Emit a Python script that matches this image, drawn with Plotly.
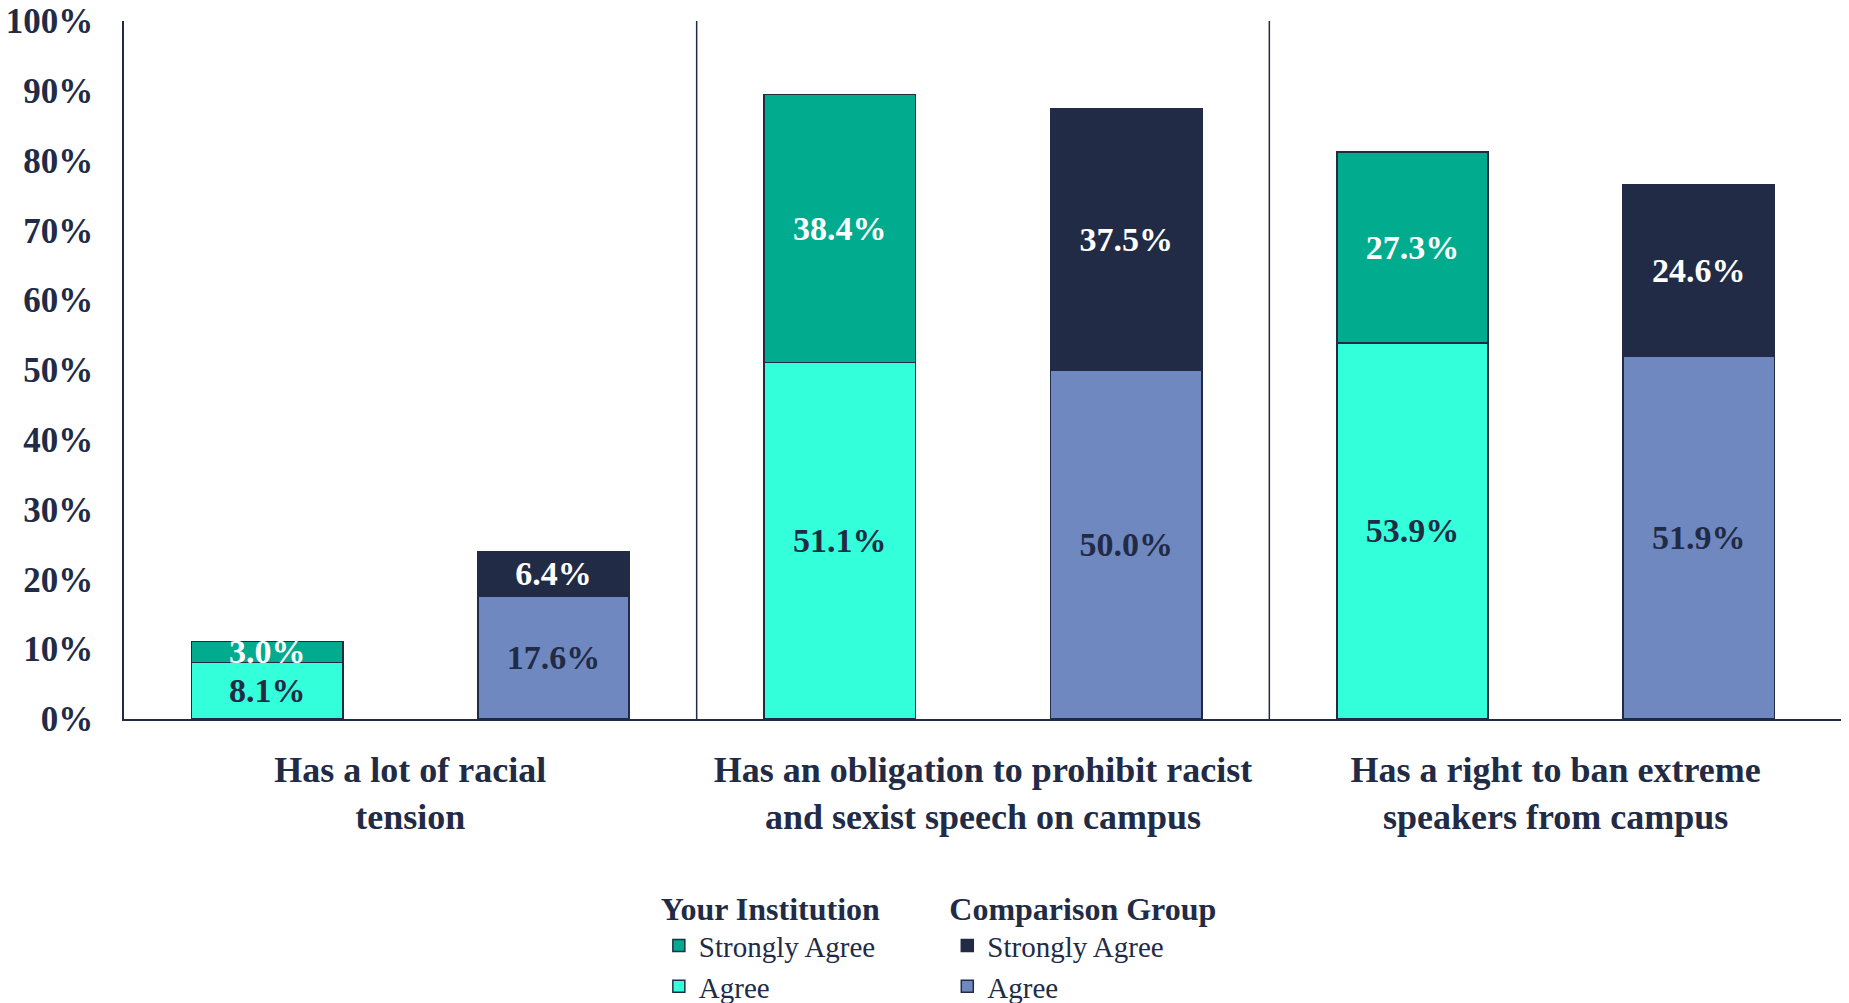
import plotly.graph_objects as go

categories = ["Has a lot of racial<br>tension",
              "Has an obligation to prohibit racist<br>and sexist speech on campus",
              "Has a right to ban extreme<br>speakers from campus"]
yi_agree = [8.1, 51.1, 53.9]
yi_strong = [3.0, 38.4, 27.3]
cg_agree = [17.6, 50.0, 51.9]
cg_strong = [6.4, 37.5, 24.6]
y_ticks = [0, 10, 20, 30, 40, 50, 60, 70, 80, 90, 100]
y_tick_labels = ["0%", "10%", "20%", "30%", "40%", "50%", "60%", "70%", "80%", "90%", "100%"]

NAVY = "#212B46"
FONT = "Liberation Serif"
W = 0.264
OFF = 0.25

idx = list(range(len(categories)))
x_yi = [i - OFF for i in idx]
x_cg = [i + OFF for i in idx]

def lab(v):
    return [f"{a:.1f}%" for a in v]

fig = go.Figure()
specs = [
    (x_yi, yi_agree, "Agree", "#33FFDA", NAVY, "legend"),
    (x_yi, yi_strong, "Strongly Agree", "#00AB8E", "white", "legend"),
    (x_cg, cg_agree, "Agree", "#7088C0", NAVY, "legend2"),
    (x_cg, cg_strong, "Strongly Agree", NAVY, "white", "legend2"),
]
for xs, vals, name, color, tcol, leg in specs:
    fig.add_trace(go.Bar(
        x=xs, y=vals, name=name, width=W,
        marker=dict(color=color, line=dict(color=NAVY, width=1.5)),
        text=lab(vals), textposition="inside", insidetextanchor="middle",
        constraintext="none", cliponaxis=False,
        textfont=dict(family=FONT, size=34, color=tcol, weight="bold"),
        legend=leg, hoverinfo="skip",
    ))

for xv in [0.5, 1.5]:
    fig.add_shape(type="line", xref="x", yref="paper", x0=xv, x1=xv, y0=0, y1=1,
                  line=dict(color=NAVY, width=1.5))
fig.add_shape(type="line", xref="paper", yref="paper", x0=1, x1=1, y0=0, y1=1,
              line=dict(color="#6B7380", width=1.5))

legend_common = dict(
    orientation="v", traceorder="reversed", yanchor="top", xanchor="left",
    xref="container", yref="container",
    font=dict(family=FONT, size=29, color=NAVY),
    bgcolor="rgba(0,0,0,0)", itemwidth=30, tracegroupgap=0,
)
fig.update_layout(
    barmode="stack",
    width=1849, height=1003,
    margin=dict(l=116, r=15, t=13, b=292, autoexpand=False),
    paper_bgcolor="white", plot_bgcolor="white",
    showlegend=True,
    legend=dict(**legend_common, x=0.352, y=0.132,
                title=dict(text="<b>Your Institution</b>", side="top",
                           font=dict(family=FONT, size=32, color=NAVY))),
    legend2=dict(**legend_common, x=0.508, y=0.132,
                 title=dict(text="<b>Comparison Group</b>", side="top",
                            font=dict(family=FONT, size=32, color=NAVY))),
    uniformtext=dict(minsize=34, mode="show"),
    xaxis=dict(range=[-0.5, 2.5], tickvals=idx, ticktext=categories,
               showgrid=False, zeroline=False, showline=True, automargin=False,
               linecolor=NAVY, linewidth=1.5, ticks="", ticklabelstandoff=18,
               tickfont=dict(family=FONT, size=36, color=NAVY, weight="bold")),
    yaxis=dict(range=[0, 100], tickvals=y_ticks, ticktext=y_tick_labels,
               showgrid=False, zeroline=False, showline=True, automargin=False,
               ticklabeloverflow="allow",
               linecolor=NAVY, linewidth=1.5, ticks="", ticklabelstandoff=22,
               tickfont=dict(family=FONT, size=35, color=NAVY, weight="bold")),
)

fig.write_html("out.html")
